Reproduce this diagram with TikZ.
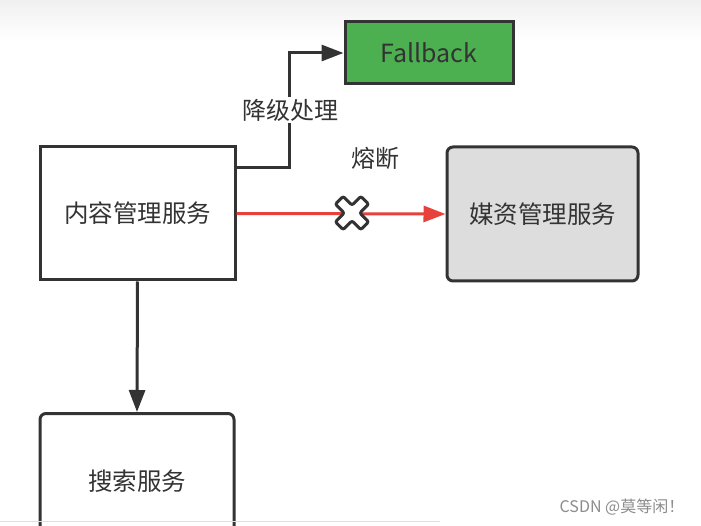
\documentclass[tikz,border=0pt]{standalone}
\usepackage{fontspec}
\setmainfont{Noto Sans CJK SC}
\usetikzlibrary{arrows.meta,calc}
\definecolor{ink}{HTML}{333333}
\definecolor{fbgreen}{HTML}{4CAF50}
\definecolor{grayfill}{HTML}{DDDDDD}
\definecolor{cutred}{HTML}{E8413C}
\begin{document}
\begin{tikzpicture}[x=1pt,y=-1pt,
  box/.style={draw=ink, line width=3pt, text=ink, inner sep=0pt,
    font=\fontsize{24.5}{24.5}\selectfont},
  conn/.style={draw=ink, line width=3pt, -{Triangle[length=22pt,width=16pt]}},
  redconn/.style={draw=cutred, line width=3pt, -{Triangle[length=22pt,width=16pt]}},
  lbl/.style={text=ink, inner sep=2pt, font=\fontsize{24}{24}\selectfont}]
\clip (0,0) rectangle (701,526);
\fill[white] (0,0) rectangle (701,526);
\shade[top color=gray!12, bottom color=white] (0,0) rectangle (701,40);
\node[box, minimum width=195pt, minimum height=133pt] (cms) at (137.5,213.5) {内容管理服务};
\node[box, rounded corners=6pt, fill=grayfill, minimum width=191pt, minimum height=134pt] (media) at (542.5,214) {媒资管理服务};
\node[box, fill=fbgreen, minimum width=168pt, minimum height=62pt, font=\fontsize{25}{25}\selectfont] (fb) at (429,53) {Fallback};
\node[box, rounded corners=6pt, minimum width=194pt, minimum height=135pt] (search) at (137,481) {搜索服务};
\draw[conn] ([yshift=45.5pt]cms.east) -| ($(fb.west)+(-54,0)$) -- (fb.west);
\node[lbl, fill=white] (l1) at (290,110) {降级处理};
\draw[redconn] (cms.east) -- (media.west);
\node[lbl] (l2) at (375,158) {熔断};
\coordinate (xm) at (352,213);
\begin{scope}[shift={(xm)}, rotate=45]
\draw[ink, fill=white, line width=3pt, rounded corners=2pt]
  (5.5,18) -- (5.5,5.5) -- (18,5.5) -- (18,-5.5) -- (5.5,-5.5) -- (5.5,-18) -- (-5.5,-18) -- (-5.5,-5.5)
  -- (-18,-5.5) -- (-18,5.5) -- (-5.5,5.5) -- (-5.5,18) -- cycle;
\end{scope}
\draw[conn] (cms.south) -- (search.north);
\draw[gray!25, line width=1pt] (0,521.5) -- (440,521.5);
\node[text=gray!90, font=\fontsize{16}{16}\selectfont, inner sep=0pt] (wm) at (622,507) {CSDN @莫等闲！};
\end{tikzpicture}
\end{document}
